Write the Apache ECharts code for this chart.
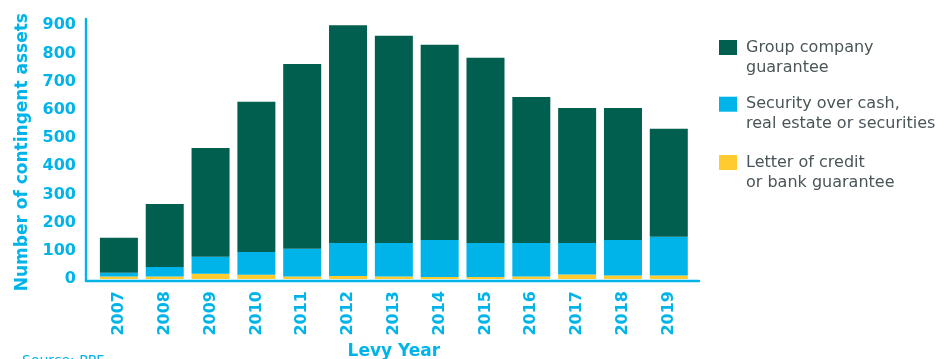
<!DOCTYPE html>
<html>
<head>
<meta charset="utf-8">
<script src="https://cdn.jsdelivr.net/npm/echarts@6/dist/echarts.min.js"></script>
<style>
html,body{margin:0;padding:0;background:#fff;}
#chart{width:952px;height:359px;}
</style>
</head>
<body>
<div id="chart"></div>
<script>
var years = ['2007','2008','2009','2010','2011','2012','2013','2014','2015','2016','2017','2018','2019'];
var letterOfCredit = [9, 9, 19, 15, 9, 11, 9, 7, 7, 9, 16, 12, 12];
var securityOver = [13, 34, 60, 81, 98, 117, 119, 131, 121, 119, 112, 126, 138];
var groupGuarantee = [124, 223, 386, 533, 656, 772, 735, 693, 657, 518, 479, 469, 383];

var nameGroup = 'Group company\nguarantee';
var nameSecurity = 'Security over cash,\nreal estate or securities';
var nameLetter = 'Letter of credit\nor bank guarantee';

var BLUE = '#00B4EA';
var GREEN = '#005F4F';
var YELLOW = '#FFCB2F';
var FONT = 'DejaVu Sans';

function legendFor(name, top) {
  return {
    data: [name],
    left: 719,
    top: top,
    padding: 0,
    orient: 'vertical',
    icon: 'rect',
    itemWidth: 18,
    itemHeight: 15,
    selectedMode: false,
    formatter: function (n) { return '\n' + n; },
    textStyle: {
      fontFamily: FONT,
      fontSize: 16,
      color: '#4A5558',
      lineHeight: 20,
      padding: [0, 0, 0, 4]
    }
  };
}

var chart = echarts.init(document.getElementById('chart'), null, {renderer: 'canvas'});
chart.setOption({
  animation: false,
  backgroundColor: '#ffffff',
  title: {
    text: 'Source: PPF',
    left: 22,
    top: 354,
    padding: 0,
    textStyle: {fontFamily: FONT, fontSize: 14, fontWeight: 'normal', color: BLUE}
  },
  legend: [
    legendFor(nameGroup, 17.5),
    legendFor(nameSecurity, 74.2),
    legendFor(nameLetter, 132.5)
  ],
  grid: [
    {left: 96, right: 260.3, top: 25.3, bottom: 80, containLabel: false, outerBoundsMode: 'none'},
    {left: 86, right: 253, top: 19, bottom: 78.5, containLabel: false, outerBoundsMode: 'none'}
  ],
  xAxis: [
    {
      type: 'category',
      gridIndex: 0,
      data: years,
      axisLine: {show: false},
      axisTick: {show: false},
      axisLabel: {
        rotate: 90,
        margin: 12,
        fontFamily: FONT,
        fontSize: 16,
        fontWeight: 'bold',
        color: BLUE
      },
      name: 'Levy Year',
      nameLocation: 'middle',
      nameGap: 62,
      nameTextStyle: {fontFamily: FONT, fontSize: 17, fontWeight: 'bold', color: BLUE}
    },
    {
      type: 'value',
      gridIndex: 1,
      min: 0, max: 1,
      axisLine: {show: true, onZero: false, lineStyle: {color: BLUE, width: 2.4}},
      axisTick: {show: false},
      axisLabel: {show: false},
      splitLine: {show: false}
    }
  ],
  yAxis: [
    {
      type: 'value',
      gridIndex: 0,
      min: 0,
      max: 900,
      interval: 100,
      axisLine: {show: false},
      axisTick: {show: false},
      splitLine: {show: false},
      axisLabel: {
        margin: 20,
        fontFamily: FONT,
        fontSize: 16,
        fontWeight: 'bold',
        color: BLUE
      },
      name: 'Number of contingent assets',
      nameLocation: 'middle',
      nameGap: 65,
      nameTextStyle: {fontFamily: FONT, fontSize: 17, fontWeight: 'bold', color: BLUE}
    },
    {
      type: 'value',
      gridIndex: 1,
      min: 0, max: 1,
      axisLine: {show: true, onZero: false, lineStyle: {color: BLUE, width: 2.4}},
      axisTick: {show: false},
      axisLabel: {show: false},
      splitLine: {show: false}
    }
  ],
  series: [
    {
      name: nameLetter, type: 'bar', stack: 'total',
      xAxisIndex: 0, yAxisIndex: 0,
      data: letterOfCredit, barWidth: 38,
      itemStyle: {color: YELLOW}
    },
    {
      name: nameSecurity, type: 'bar', stack: 'total',
      xAxisIndex: 0, yAxisIndex: 0,
      data: securityOver, barWidth: 38,
      itemStyle: {color: BLUE}
    },
    {
      name: nameGroup, type: 'bar', stack: 'total',
      xAxisIndex: 0, yAxisIndex: 0,
      data: groupGuarantee, barWidth: 38,
      itemStyle: {color: GREEN}
    }
  ]
});
</script>
</body>
</html>
